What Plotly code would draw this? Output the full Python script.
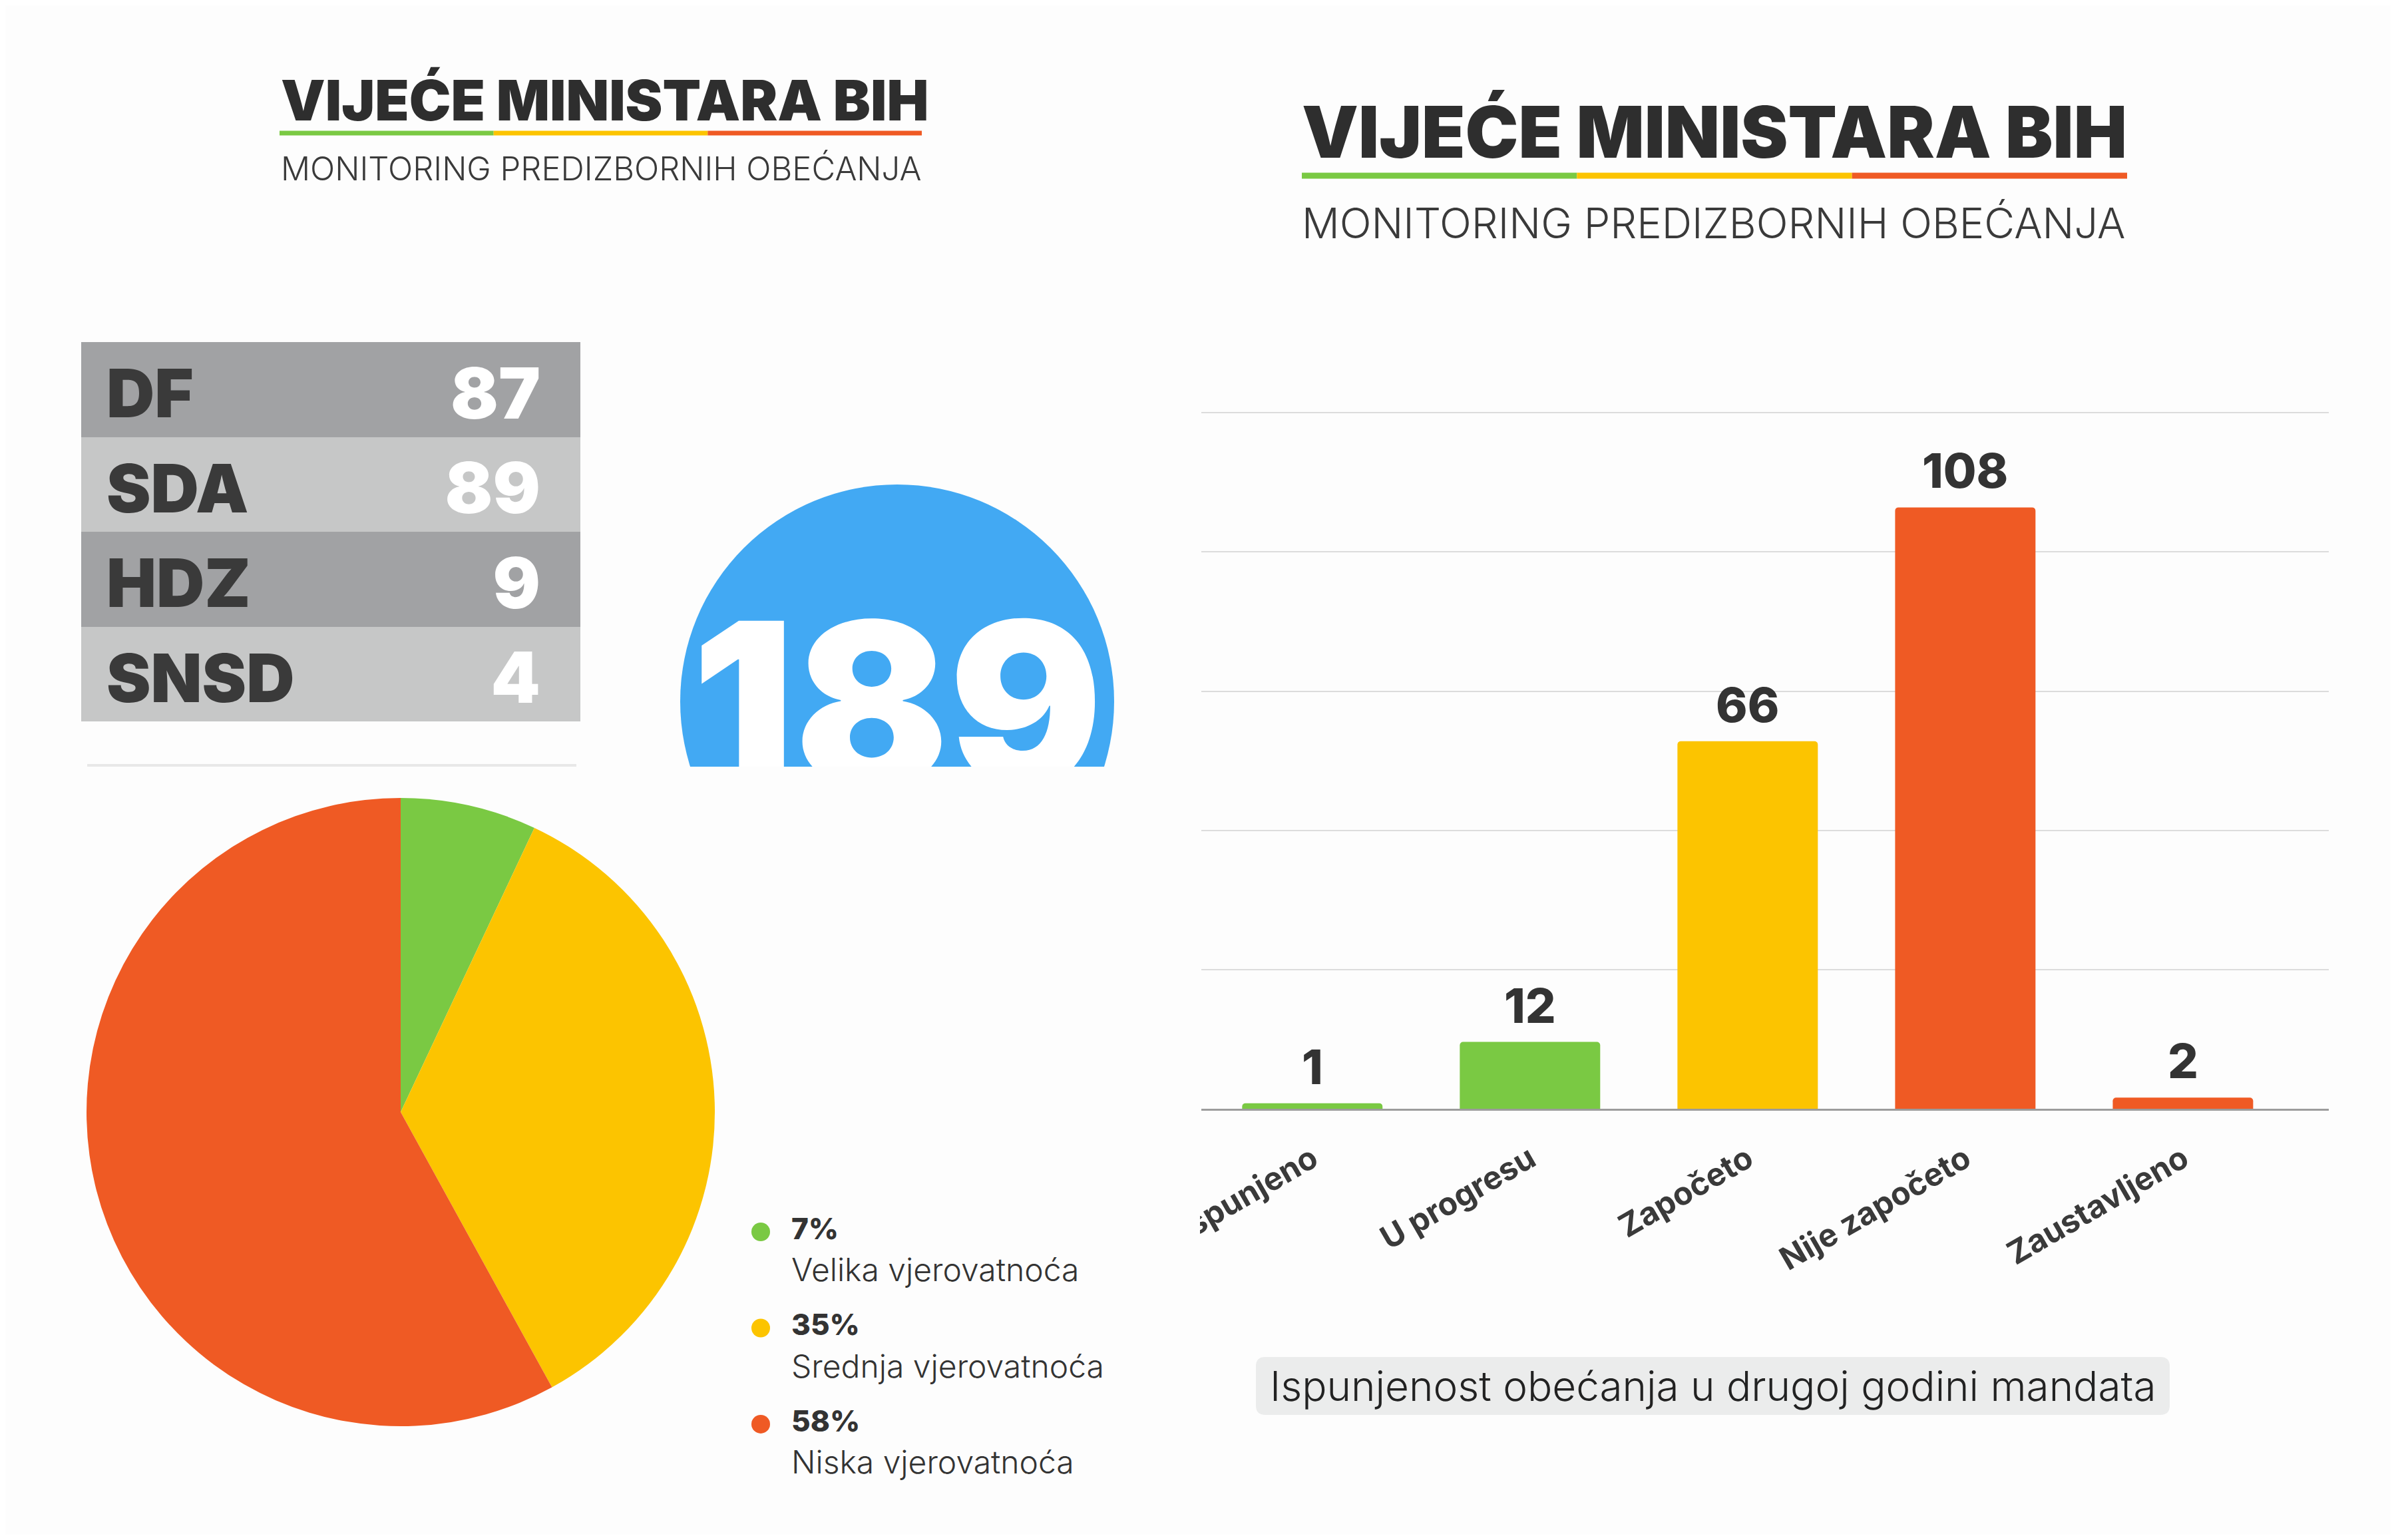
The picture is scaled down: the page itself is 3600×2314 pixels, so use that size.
import plotly.graph_objects as go

W, H = 3600, 2314          # reference canvas, all positions below are in its pixels
OFF = 8                    # default body margin of the html page
FW, FH = W - 2 * OFF, H - 2 * OFF

# ---- data -------------------------------------------------------------
parties = ["DF", "SDA", "HDZ", "SNSD"]
party_counts = [87, 89, 9, 4]

likelihood_labels = ["Velika vjerovatnoća", "Srednja vjerovatnoća", "Niska vjerovatnoća"]
likelihood_pct = [7, 35, 58]

status_labels = ["Ispunjeno", "U progresu", "Započeto", "Nije započeto", "Zaustavljeno"]
status_counts = [1, 12, 66, 108, 2]

title_text = "VIJEĆE MINISTARA BIH"
subtitle_text = "MONITORING PREDIZBORNIH OBEĆANJA"
caption_text = "Ispunjenost obećanja u drugoj godini mandata"

# ---- styles -----------------------------------------------------------
GREEN, YELLOW, ORANGE = "#7AC943", "#FCC400", "#EF5A24"
BLUE = "#42A9F3"
DARK = "#333333"
BG = "#FDFDFD"
GRAY_DARK, GRAY_LIGHT = "#A1A2A4", "#C6C7C7"
HEAVY = "Inter"
LIGHT = "Inter"

likelihood_colors = [GREEN, YELLOW, ORANGE]
status_colors = [GREEN, GREEN, YELLOW, ORANGE, ORANGE]
gray_scale = [[0, GRAY_DARK], [1, GRAY_LIGHT]]


def px(x):
    return (x - OFF) / FW


def py(y):
    return 1 - (y - OFF) / FH


def dx(x0, x1):
    return [px(x0), px(x1)]


def dy(y0, y1):
    return [py(y1), py(y0)]


def rounded_rect(x0, y0, x1, y1, r):
    # svg path in paper units for a rounded rectangle given in pixels
    pts = [
        ("M", x0 + r, y0), ("L", x1 - r, y0), ("Q", x1, y0, x1, y0 + r),
        ("L", x1, y1 - r), ("Q", x1, y1, x1 - r, y1), ("L", x0 + r, y1),
        ("Q", x0, y1, x0, y1 - r), ("L", x0, y0 + r), ("Q", x0, y0, x0 + r, y0),
    ]
    out = []
    for p in pts:
        cmd, vals = p[0], p[1:]
        coords = []
        for i in range(0, len(vals), 2):
            coords.append(f"{px(vals[i]):.5f},{py(vals[i + 1]):.5f}")
        out.append(cmd + " " + " ".join(coords))
    return " ".join(out) + " Z"


fig = go.Figure()

# ---- status bar chart -------------------------------------------------
fig.add_trace(go.Bar(
    x=status_labels, y=status_counts, marker_color=status_colors,
    marker_line_width=0, width=0.645, xaxis="x", yaxis="y",
    showlegend=False, hoverinfo="x+y",
))
for lab, v in zip(status_labels, status_counts):
    fig.add_annotation(
        x=lab, y=v, xref="x", yref="y", text=str(v), showarrow=False,
        yanchor="bottom", yshift=10,
        font=dict(family=HEAVY, size=72, weight=800, color=DARK),
    )

# ---- likelihood pie ---------------------------------------------------
fig.add_trace(go.Pie(
    values=likelihood_pct, labels=likelihood_labels,
    marker=dict(colors=likelihood_colors, line=dict(width=0)),
    sort=False, direction="clockwise", rotation=0, textinfo="none",
    domain=dict(x=dx(130, 1074), y=dy(1199, 2143)), showlegend=False,
))

# custom legend for the pie
idx = list(range(len(likelihood_pct)))
fig.add_trace(go.Scatter(
    x=[0] * len(idx), y=idx, mode="markers", xaxis="x2", yaxis="y2",
    marker=dict(size=28, color=likelihood_colors), showlegend=False,
    hoverinfo="skip", cliponaxis=False,
))
fig.add_trace(go.Scatter(
    x=[46] * len(idx), y=idx, mode="text", xaxis="x2", yaxis="y2",
    text=[f"{p}%" for p in likelihood_pct], textposition="middle right",
    textfont=dict(family=HEAVY, size=44, weight=800, color=DARK),
    showlegend=False, hoverinfo="skip", cliponaxis=False,
))
fig.add_trace(go.Scatter(
    x=[46] * len(idx), y=[i + 0.43 for i in idx], mode="text", xaxis="x2", yaxis="y2",
    text=likelihood_labels, textposition="middle right",
    textfont=dict(family=LIGHT, size=48, weight=300, color=DARK),
    showlegend=False, hoverinfo="skip", cliponaxis=False,
))

# ---- total circle (clipped at the panel edge) -------------------------
fig.add_trace(go.Scatter(
    x=[0], y=[0], mode="markers", xaxis="x3", yaxis="y3",
    marker=dict(size=652, color=BLUE, line=dict(width=0)),
    cliponaxis=True, showlegend=False, hoverinfo="skip",
))
fig.add_trace(go.Scatter(
    x=[0], y=[-42], mode="text", xaxis="x3", yaxis="y3",
    text=[str(sum(party_counts))], textposition="middle center",
    textfont=dict(family=HEAVY, size=342, weight=900, color="white"),
    cliponaxis=True, showlegend=False, hoverinfo="skip",
))

# ---- party table (alternating gray rows) ------------------------------
rows = list(range(len(parties)))
fig.add_trace(go.Heatmap(
    z=[[r % 2] for r in rows], x=[0, 750], y=rows, xaxis="x4", yaxis="y4",
    colorscale=gray_scale, zmin=0, zmax=1, showscale=False, hoverinfo="skip",
))
fig.add_trace(go.Scatter(
    x=[38] * len(rows), y=[r + 0.12 for r in rows], mode="text", xaxis="x4", yaxis="y4",
    text=parties, textposition="middle right",
    textfont=dict(family=HEAVY, size=100, weight=900, color="#3A3A3A"),
    showlegend=False, hoverinfo="skip", cliponaxis=False,
))
fig.add_trace(go.Scatter(
    x=[690] * len(rows), y=[r + 0.12 for r in rows], mode="text", xaxis="x4", yaxis="y4",
    text=[str(c) for c in party_counts], textposition="middle left",
    textfont=dict(family=HEAVY, size=106, weight=900, color="white"),
    showlegend=False, hoverinfo="skip", cliponaxis=False,
))

# ---- shapes -----------------------------------------------------------
shapes = []


def tricolor(x0, x1, y, w):
    seg = (x1 - x0) / 3
    for k, col in enumerate([GREEN, YELLOW, ORANGE]):
        shapes.append(dict(type="line", xref="paper", yref="paper",
                           x0=px(x0 + k * seg), x1=px(x0 + (k + 1) * seg),
                           y0=py(y), y1=py(y), line=dict(color=col, width=w)))


tricolor(420, 1385, 200, 7)
tricolor(1956, 3196, 264, 9)

shapes.append(dict(type="line", xref="paper", yref="paper", x0=px(131), x1=px(866),
                   y0=py(1150), y1=py(1150), line=dict(color="#E8E8E8", width=4)))
shapes.append(dict(type="path", xref="paper", yref="paper",
                   path=rounded_rect(1887, 2039, 3260, 2126, 14),
                   fillcolor="#EBECEC", line=dict(width=0), layer="below"))
# the bar panel crops the first category label at its left edge
shapes.append(dict(type="rect", xref="paper", yref="paper", x0=px(1680), x1=px(1803),
                   y0=py(1900), y1=py(1670), fillcolor=BG, line=dict(width=0), layer="above"))

# ---- text -------------------------------------------------------------
texts = [
    (title_text, 420, 150, 84, HEAVY, 900, "#2E2E2E"),
    (subtitle_text, 420, 254, 49, LIGHT, 300, "#3A3A3A"),
    (title_text, 1954, 198, 107, HEAVY, 900, "#2E2E2E"),
    (subtitle_text, 1954, 335, 63, LIGHT, 300, "#3A3A3A"),
]
for t, x, y, s, fam, wgt, col in texts:
    fig.add_annotation(text=t, x=px(x), y=py(y), xref="paper", yref="paper",
                       xanchor="left", yanchor="middle", showarrow=False,
                       font=dict(family=fam, size=s, weight=wgt, color=col))
fig.add_annotation(text=caption_text, x=px(2573), y=py(2082), xref="paper", yref="paper",
                   xanchor="center", yanchor="middle", showarrow=False,
                   font=dict(family=LIGHT, size=62, weight=300, color="#222222"))

hidden = dict(visible=False, showgrid=False, zeroline=False, fixedrange=True,
              automargin=False)

fig.update_layout(
    width=FW, height=FH, margin=dict(l=0, r=0, t=0, b=0, autoexpand=False),
    paper_bgcolor=BG, plot_bgcolor="rgba(0,0,0,0)",
    barcornerradius=5, shapes=shapes,
    xaxis=dict(
        domain=dx(1805, 3499), range=[-0.51, 4.67], type="category",
        tickangle=-30, ticks="", ticklabelstandoff=26,
        tickfont=dict(family=HEAVY, size=48, weight=700, color="#3A3A3A"),
        showline=True, linecolor="#9C9C9C", linewidth=3, showgrid=False,
        fixedrange=True, anchor="y", automargin=False,
    ),
    yaxis=dict(
        domain=dy(616, 1666), range=[0, 125.5], dtick=25, showticklabels=False,
        showgrid=True, gridcolor="#DCDCDC", gridwidth=2, zeroline=False,
        fixedrange=True, anchor="x", automargin=False,
    ),
    xaxis2=dict(domain=dx(1100, 1760), range=[-43, 617], anchor="y2", **hidden),
    yaxis2=dict(domain=dy(1787, 2207), range=[2.464, -0.443], anchor="x2", **hidden),
    xaxis3=dict(domain=dx(1000, 1700), range=[-348, 352], anchor="y3", **hidden),
    yaxis3=dict(domain=dy(700, 1152), range=[-98, 354], anchor="x3", **hidden),
    xaxis4=dict(domain=dx(122, 872), range=[0, 750], anchor="y4", **hidden),
    yaxis4=dict(domain=dy(514, 1084), range=[3.5, -0.5], anchor="x4", **hidden),
)

fig.write_html("out.html")
